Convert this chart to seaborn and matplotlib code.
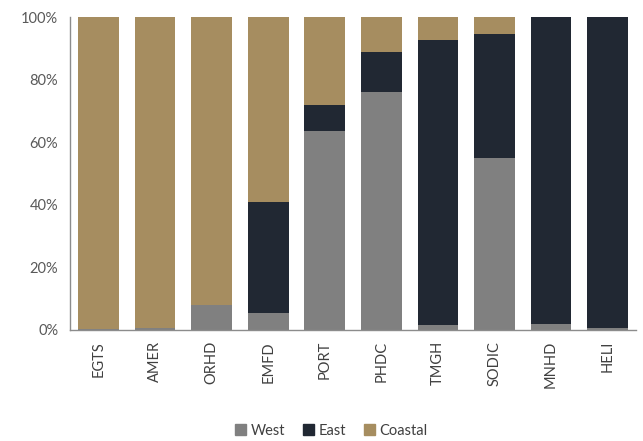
import numpy as np
import pandas as pd
import matplotlib
matplotlib.use("Agg")
import matplotlib.pyplot as plt
from matplotlib.ticker import PercentFormatter, FixedLocator
from matplotlib.patches import Patch
import seaborn as sns

companies = ["EGTS", "AMER", "ORHD", "EMFD", "PORT", "PHDC", "TMGH", "SODIC", "MNHD", "HELI"]
west = [0.3, 0.5, 8.0, 5.4, 63.6, 76.0, 1.5, 55.0, 2.0, 0.5]
east = [0.0, 0.0, 0.0, 35.5, 8.3, 12.8, 91.1, 39.6, 98.0, 99.5]
coastal = [99.7, 99.5, 92.0, 59.1, 28.1, 11.2, 7.4, 5.4, 0.0, 0.0]

c_west = "#808080"
c_east = "#212833"
c_coastal = "#A68D60"

df = pd.DataFrame({"company": companies, "West": west, "East": east, "Coastal": coastal})
df["we"] = df["West"] + df["East"]
df["total"] = df["we"] + df["Coastal"]

sns.set_style("white")
plt.rcParams["font.family"] = ["Lato", "DejaVu Sans"]

fig = plt.figure(figsize=(6.43, 4.41), dpi=100)
ax = fig.add_axes([0.109, 0.252, 0.88, 0.709])

# stacked look: draw cumulative totals back to front
sns.barplot(data=df, x="company", y="total", color=c_coastal, width=0.72, ax=ax, saturation=1, linewidth=0)
sns.barplot(data=df, x="company", y="we", color=c_east, width=0.72, ax=ax, saturation=1, linewidth=0)
sns.barplot(data=df, x="company", y="West", color=c_west, width=0.72, ax=ax, saturation=1, linewidth=0)

ax.set_ylim(0, 100)
ax.set_xlim(-0.5, len(companies) - 0.5)
ax.yaxis.set_major_formatter(PercentFormatter(100, decimals=0))
ax.set_yticks([0, 20, 40, 60, 80, 100])
ax.set_xlabel("")
ax.set_ylabel("")

# labels centred on bars, tick marks on the category boundaries
ax.set_xticks(range(len(companies)))
ax.set_xticklabels(companies, rotation=90)
ax.xaxis.set_minor_locator(FixedLocator(np.arange(-0.5, len(companies), 1)))
ax.tick_params(axis="x", which="major", length=0, pad=8, labelsize=10.5, labelcolor="#404040")
ax.tick_params(axis="x", which="minor", length=5, width=1, color="#8c8c8c", direction="out")
ax.tick_params(axis="y", length=5, width=1, color="#8c8c8c", labelsize=10.5, labelcolor="#595959", direction="out")

for s in ["top", "right"]:
    ax.spines[s].set_visible(False)
for s in ["left", "bottom"]:
    ax.spines[s].set_color("#8c8c8c")
    ax.spines[s].set_linewidth(1)

handles = [Patch(color=c_west, label="West"), Patch(color=c_east, label="East"),
           Patch(color=c_coastal, label="Coastal")]
fig.legend(handles=handles, loc="center", bbox_to_anchor=(0.515, 0.023), ncol=3, frameon=False,
           handlelength=0.8, handleheight=0.8, handletextpad=0.3, columnspacing=1.2,
           prop={"size": 10.5}, labelcolor="#404040")

fig.savefig("out.png", dpi=100)
